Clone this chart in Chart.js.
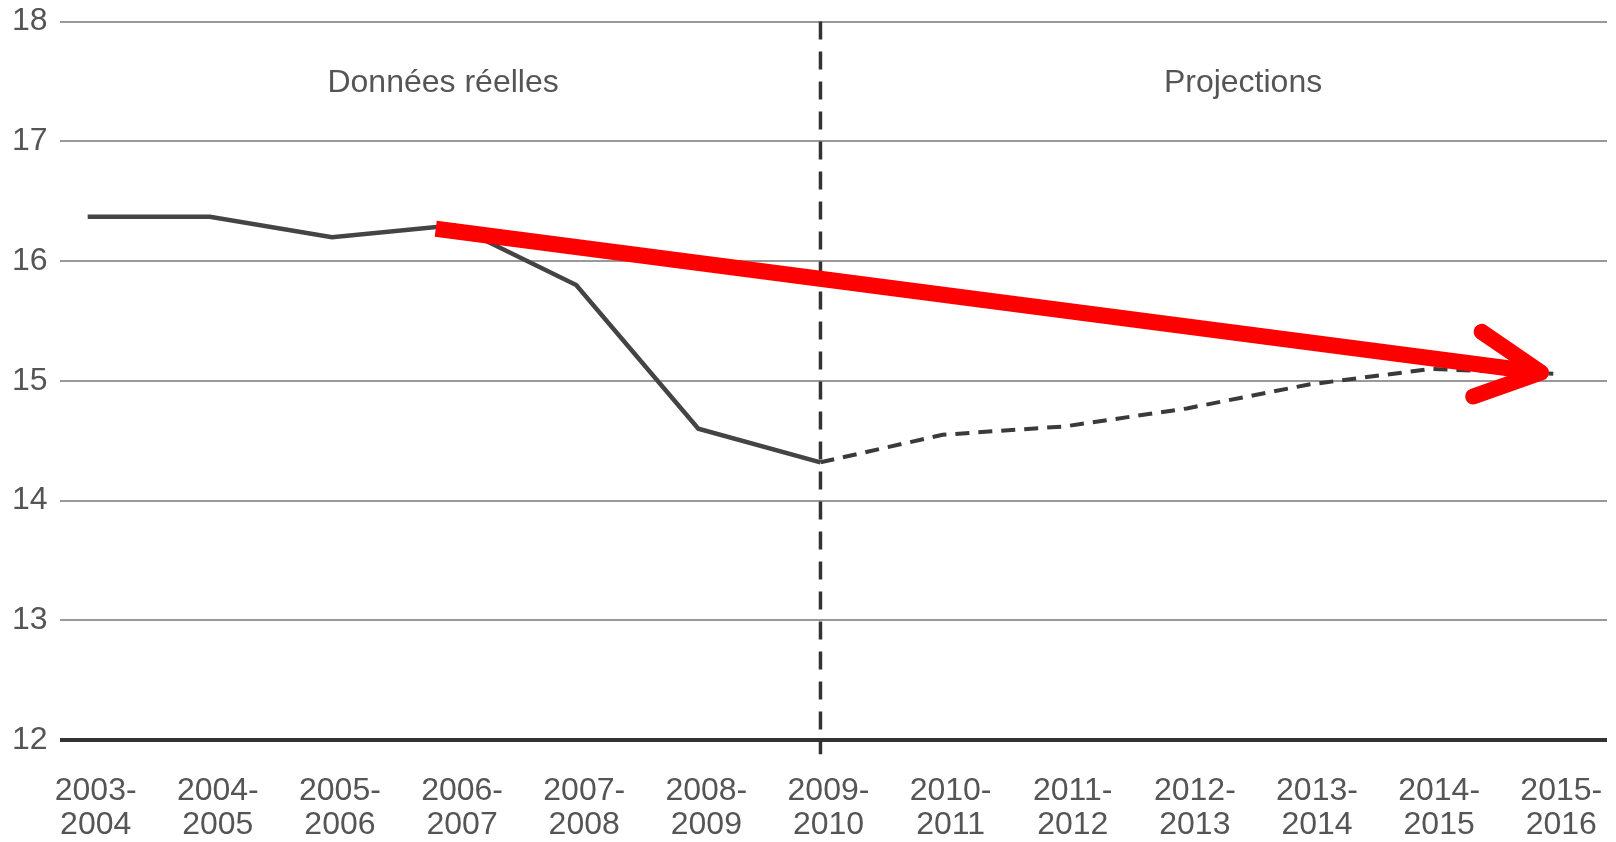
<!DOCTYPE html>
<html>
<head>
<meta charset="utf-8">
<script src="https://cdn.jsdelivr.net/npm/chart.js@4/dist/chart.umd.min.js"></script>
<style>
  body { margin: 0; background: #fff; }
  #wrap { width: 1616px; height: 842px; }
</style>
</head>
<body>
<div id="wrap"><canvas id="myChart" width="1616" height="842"></canvas></div>
<script>
// school years on the x axis
let categories = ["2003-2004", "2004-2005", "2005-2006", "2006-2007", "2007-2008", "2008-2009",
  "2009-2010", "2010-2011", "2011-2012", "2012-2013", "2013-2014", "2014-2015", "2015-2016"];
// real data (solid) and projections (dashed)
let actualValues = [16.37, 16.37, 16.2, 16.3, 15.8, 14.6, 14.32, null, null, null, null, null, null];
let projectionValues = [null, null, null, null, null, null, 14.32, 14.55, 14.62, 14.77, 14.97, 15.1, 15.06];
let yMin = 12, yMax = 18, yStep = 1;
let splitIndex = 6; // 2009-2010, start of projections
let sectionLabels = ["Données réelles", "Projections"];
let sectionX = [2.91, 9.46];
let sectionY = 17.49;
// red arrow, in data units [x index, value]
let arrowStart = [2.85, 16.27];
let arrowEnd = [11.9, 15.07];

let font = "'Liberation Sans', Arial, sans-serif";

function toPoints(values) {
  return values.map((v, i) => ({ x: i, y: v }));
}

let overlay = {
  id: "overlay",
  beforeDatasetsDraw(chart) {
    let ctx = chart.ctx, xs = chart.scales.x, ys = chart.scales.y, area = chart.chartArea;
    ctx.save();
    // vertical split line, runs a little past the axis
    let px = xs.getPixelForValue(splitIndex);
    ctx.strokeStyle = "#333";
    ctx.lineWidth = 3.5;
    ctx.setLineDash([18, 12]);
    ctx.beginPath();
    ctx.moveTo(px, area.top);
    ctx.lineTo(px, area.bottom + 14);
    ctx.stroke();
    ctx.setLineDash([]);
    // section titles
    ctx.fillStyle = "#555";
    ctx.font = "32px " + font;
    ctx.textAlign = "center";
    ctx.textBaseline = "middle";
    sectionLabels.forEach((t, i) => {
      ctx.fillText(t, xs.getPixelForValue(sectionX[i]), ys.getPixelForValue(sectionY));
    });
    ctx.restore();
  },
  afterDatasetsDraw(chart) {
    let ctx = chart.ctx, xs = chart.scales.x, ys = chart.scales.y;
    let x0 = xs.getPixelForValue(arrowStart[0]), y0 = ys.getPixelForValue(arrowStart[1]);
    let x1 = xs.getPixelForValue(arrowEnd[0]), y1 = ys.getPixelForValue(arrowEnd[1]);
    let ang = Math.atan2(y1 - y0, x1 - x0);
    ctx.save();
    ctx.strokeStyle = "#ff0000";
    ctx.lineWidth = 16;
    ctx.lineCap = "butt";
    ctx.beginPath();
    ctx.moveTo(x0, y0);
    ctx.lineTo(x1 - 6 * Math.cos(ang), y1 - 6 * Math.sin(ang));
    ctx.stroke();
    ctx.lineCap = "round";
    ctx.lineJoin = "round";
    let len = 72, spread = 0.47;
    ctx.beginPath();
    ctx.moveTo(x1 - len * Math.cos(ang - spread), y1 - len * Math.sin(ang - spread));
    ctx.lineTo(x1, y1);
    ctx.lineTo(x1 - len * Math.cos(ang + spread), y1 - len * Math.sin(ang + spread));
    ctx.stroke();
    ctx.restore();
  }
};

let myChart = document.getElementById("myChart").getContext("2d");
let indiceChart = new Chart(myChart, {
  type: "line",
  data: {
    datasets: [
      {
        label: "Données réelles",
        data: toPoints(actualValues),
        borderColor: "#444",
        borderWidth: 4.5,
        pointRadius: 0,
        spanGaps: false,
      },
      {
        label: "Projections",
        data: toPoints(projectionValues),
        borderColor: "#3a3a3a",
        borderWidth: 4,
        borderDash: [14, 9],
        pointRadius: 0,
        spanGaps: false,
      },
    ],
  },
  options: {
    responsive: false,
    animation: false,
    devicePixelRatio: 1,
    layout: { padding: { left: 0, right: 9, top: 0, bottom: 0 } },
    plugins: { legend: { display: false }, tooltip: { enabled: false } },
    scales: {
      x: {
        type: "linear",
        min: -0.23,
        max: 12.44,
        border: { display: false },
        grid: { drawOnChartArea: false, drawTicks: true, tickLength: 34, color: "transparent" },
        ticks: {
          stepSize: 1,
          includeBounds: false,
          autoSkip: false,
          maxRotation: 0,
          labelOffset: 8,
          padding: 0,
          color: "#555",
          font: { family: font, size: 32, lineHeight: 1.06 },
          callback: (v) => {
            let c = categories[v];
            if (!Number.isInteger(v) || !c) return "";
            let p = c.split("-");
            return [p[0] + "-", p[1]];
          },
        },
      },
      y: {
        min: yMin,
        max: yMax,
        border: { display: false },
        grid: {
          drawTicks: false,
          color: (c) => (c.tick && c.tick.value === yMin ? "#333" : "#999"),
          lineWidth: (c) => (c.tick && c.tick.value === yMin ? 4 : 2),
        },
        ticks: {
          stepSize: yStep,
          padding: 12,
          color: "#555",
          font: { family: font, size: 32, lineHeight: 0.6 },
        },
      },
    },
  },
  plugins: [overlay],
});
</script>
</body>
</html>
